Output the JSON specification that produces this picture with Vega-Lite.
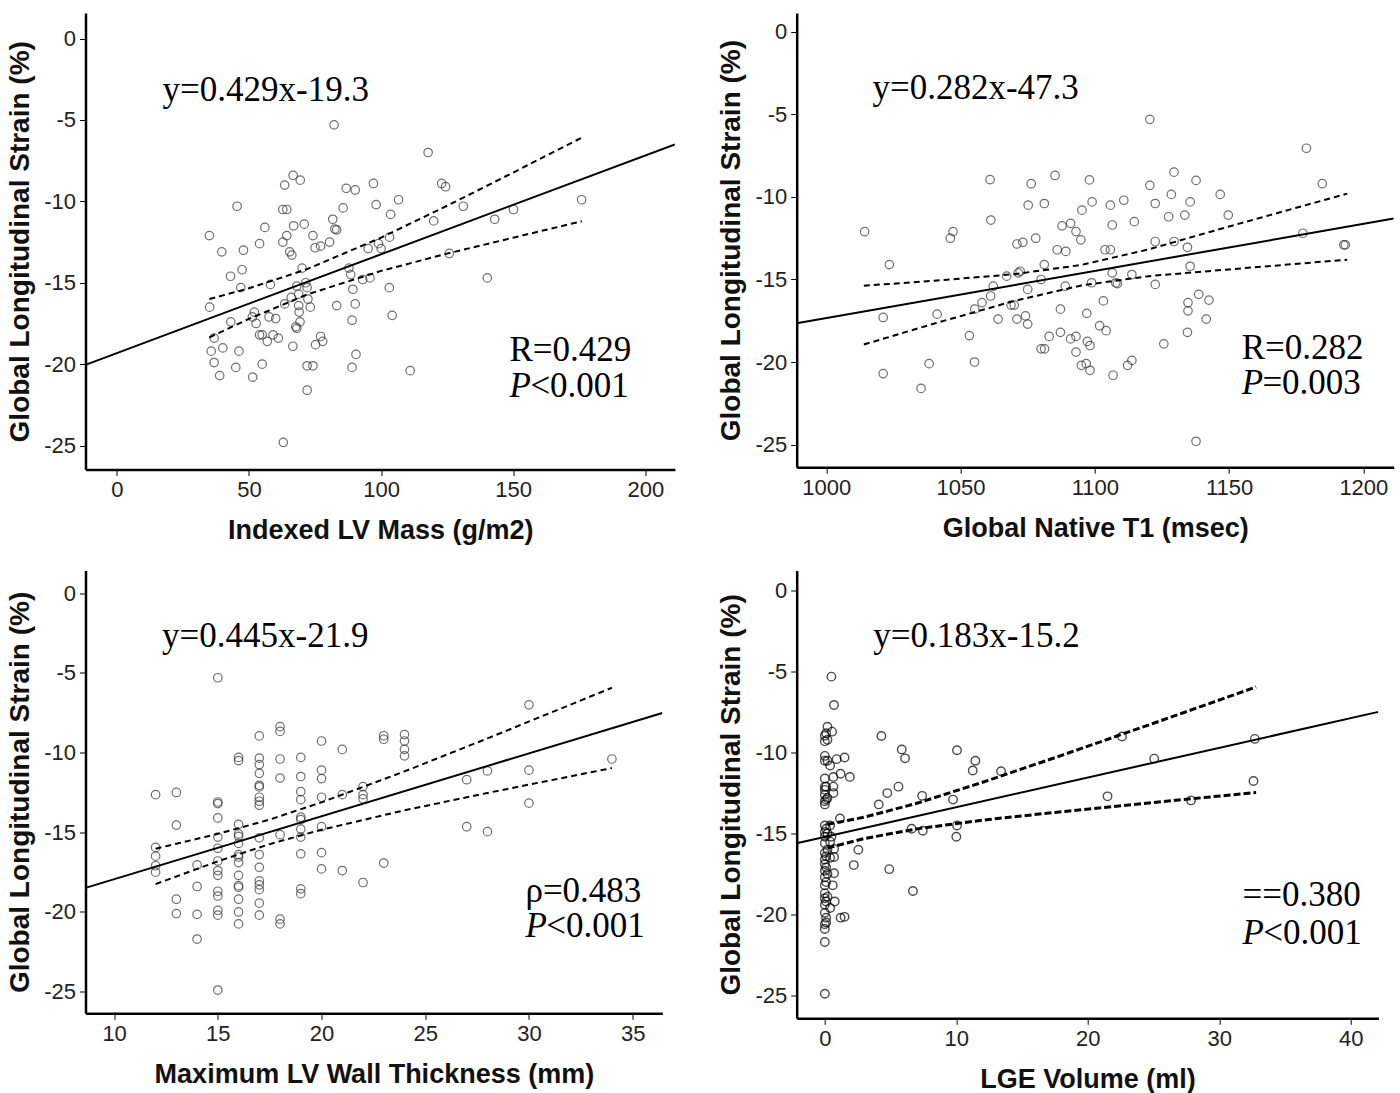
{
"$schema": "https://vega.github.io/schema/vega-lite/v6.json",
"background": "white",
"padding": {"left": 6.5, "top": 13, "right": 0, "bottom": 0},
"config": {
  "view": {"stroke": null},
  "axis": {"grid": false, "domainColor": "#000", "domainWidth": 2.5, "tickColor": "#000", "tickWidth": 1, "tickSize": 6, "labelFont": "Liberation Sans", "labelFontSize": 22, "labelColor": "#222", "labelPadding": 4, "titleFont": "Liberation Sans", "titleFontWeight": "bold", "titleColor": "#111"},
  "axisX": {"titlePadding": 17, "format": "d", "titleFontSize": 27},
  "axisY": {"titlePadding": 9, "titleFontSize": 28}
},
"datasets": {
  "p1": [{"x":82.2,"y":-5.3},{"x":117.8,"y":-7.0},{"x":66.7,"y":-8.4},{"x":69.4,"y":-8.7},{"x":63.5,"y":-9.0},{"x":86.8,"y":-9.2},{"x":90.2,"y":-9.3},{"x":97.1,"y":-8.9},{"x":122.9,"y":-8.9},{"x":124.4,"y":-9.1},{"x":106.6,"y":-9.9},{"x":175.9,"y":-9.9},{"x":98.1,"y":-10.2},{"x":45.5,"y":-10.3},{"x":62.8,"y":-10.5},{"x":64.3,"y":-10.5},{"x":85.6,"y":-10.4},{"x":103.6,"y":-10.8},{"x":131.1,"y":-10.3},{"x":150.1,"y":-10.5},{"x":81.7,"y":-11.1},{"x":119.9,"y":-11.2},{"x":143,"y":-11.1},{"x":56,"y":-11.6},{"x":66.9,"y":-11.5},{"x":70.9,"y":-11.4},{"x":82.5,"y":-11.7},{"x":83.2,"y":-11.75},{"x":35,"y":-12.1},{"x":64.3,"y":-12.1},{"x":74.2,"y":-12.1},{"x":103.2,"y":-12.2},{"x":62.8,"y":-12.5},{"x":80.5,"y":-12.5},{"x":54,"y":-12.6},{"x":77.1,"y":-12.75},{"x":75,"y":-12.85},{"x":95.1,"y":-12.9},{"x":99,"y":-12.6},{"x":100,"y":-12.9},{"x":39.7,"y":-13.1},{"x":47.9,"y":-13.0},{"x":65.4,"y":-13.1},{"x":66.2,"y":-13.3},{"x":125.8,"y":-13.2},{"x":47.4,"y":-14.2},{"x":70.1,"y":-14.1},{"x":87.8,"y":-14.1},{"x":43,"y":-14.6},{"x":88.5,"y":-14.5},{"x":93,"y":-14.8},{"x":95.8,"y":-14.7},{"x":140.2,"y":-14.7},{"x":58.1,"y":-15.1},{"x":46.9,"y":-15.3},{"x":71.5,"y":-15.0},{"x":68.1,"y":-15.2},{"x":72,"y":-15.3},{"x":89.3,"y":-15.4},{"x":103.1,"y":-15.3},{"x":68.8,"y":-15.7},{"x":66,"y":-15.9},{"x":72.3,"y":-16.0},{"x":35.1,"y":-16.5},{"x":63.5,"y":-16.3},{"x":68.8,"y":-16.4},{"x":73.2,"y":-16.5},{"x":83.2,"y":-16.4},{"x":90.2,"y":-16.3},{"x":69,"y":-16.8},{"x":52,"y":-16.8},{"x":51.3,"y":-17.1},{"x":57.6,"y":-17.1},{"x":60.1,"y":-17.2},{"x":104.2,"y":-17.0},{"x":43.1,"y":-17.4},{"x":52.7,"y":-17.5},{"x":69.3,"y":-17.4},{"x":89,"y":-17.3},{"x":67.7,"y":-17.7},{"x":68.1,"y":-17.8},{"x":54,"y":-18.2},{"x":55,"y":-18.2},{"x":59.1,"y":-18.2},{"x":61.1,"y":-18.4},{"x":36.8,"y":-18.4},{"x":56.9,"y":-18.6},{"x":77.1,"y":-18.3},{"x":77.9,"y":-18.6},{"x":75.2,"y":-18.8},{"x":66.6,"y":-18.9},{"x":40.1,"y":-19.0},{"x":35.7,"y":-19.2},{"x":46.2,"y":-19.2},{"x":90.5,"y":-19.4},{"x":36.8,"y":-19.9},{"x":55,"y":-20.0},{"x":45,"y":-20.2},{"x":72,"y":-20.1},{"x":74.2,"y":-20.1},{"x":89,"y":-20.2},{"x":111,"y":-20.4},{"x":38.9,"y":-20.7},{"x":51.4,"y":-20.8},{"x":72,"y":-21.6},{"x":63,"y":-24.8}],
  "p1fit": [{"x":-11.88,"y":-20.04},{"x":211.2,"y":-6.5}],
  "p1band": [{"x":35,"hi":-16.0,"lo":-18.35},{"x":50,"hi":-15.34,"lo":-17.22},{"x":72,"hi":-14.16,"lo":-15.72},{"x":100,"hi":-12.23,"lo":-14.27},{"x":125,"hi":-10.27,"lo":-13.21},{"x":150,"hi":-8.23,"lo":-12.23},{"x":176,"hi":-6.08,"lo":-11.22}],
  "p1note": [{"x":17.3,"y":-3.81,"t":"y=0.429x-19.3"},{"x":148.6,"y":-19.78,"t":"R=0.429"},{"x":156.5,"y":-21.99,"t":"<0.001"}],
  "p1it": [{"x":148.6,"y":-21.99,"t":"P"}],
  "p2": [{"x":1120.5,"y":-5.3},{"x":1178.8,"y":-7.05},{"x":1184.7,"y":-9.2},{"x":1085.2,"y":-8.7},{"x":1061,"y":-8.95},{"x":1098,"y":-8.97},{"x":1076.3,"y":-9.2},{"x":1129.5,"y":-8.5},{"x":1137.7,"y":-9.0},{"x":1120.5,"y":-9.3},{"x":1128.5,"y":-9.85},{"x":1146.7,"y":-9.85},{"x":1075.2,"y":-10.5},{"x":1081.2,"y":-10.4},{"x":1099,"y":-10.3},{"x":1095.2,"y":-10.8},{"x":1105.8,"y":-10.5},{"x":1110.8,"y":-10.2},{"x":1122.5,"y":-10.4},{"x":1135.5,"y":-10.3},{"x":1149.7,"y":-11.1},{"x":1061.3,"y":-11.4},{"x":1127.5,"y":-11.2},{"x":1133.5,"y":-11.1},{"x":1114.7,"y":-11.5},{"x":1106.5,"y":-11.7},{"x":1087.8,"y":-11.75},{"x":1091,"y":-11.6},{"x":1093,"y":-12.1},{"x":1014.3,"y":-12.1},{"x":1047.2,"y":-12.1},{"x":1046.2,"y":-12.5},{"x":1078,"y":-12.5},{"x":1094.8,"y":-12.6},{"x":1071,"y":-12.85},{"x":1073.2,"y":-12.75},{"x":1122.5,"y":-12.7},{"x":1129.5,"y":-12.7},{"x":1177.5,"y":-12.2},{"x":1192.7,"y":-12.9},{"x":1193.3,"y":-12.9},{"x":1086,"y":-13.2},{"x":1089.2,"y":-13.3},{"x":1103.8,"y":-13.2},{"x":1105.8,"y":-13.2},{"x":1134.5,"y":-13.05},{"x":1023.5,"y":-14.1},{"x":1081.2,"y":-14.1},{"x":1135.5,"y":-14.2},{"x":1072.2,"y":-14.5},{"x":1071.5,"y":-14.6},{"x":1067.2,"y":-14.8},{"x":1106.5,"y":-14.6},{"x":1113.8,"y":-14.7},{"x":1080,"y":-15.0},{"x":1075,"y":-15.6},{"x":1062.2,"y":-15.4},{"x":1089,"y":-15.4},{"x":1098.8,"y":-15.2},{"x":1107.8,"y":-15.2},{"x":1108.4,"y":-15.25},{"x":1122.5,"y":-15.3},{"x":1138.7,"y":-15.9},{"x":1142.5,"y":-16.25},{"x":1061.2,"y":-16.0},{"x":1058,"y":-16.4},{"x":1103.2,"y":-16.3},{"x":1134.7,"y":-16.4},{"x":1055.3,"y":-16.8},{"x":1068.8,"y":-16.55},{"x":1070,"y":-16.55},{"x":1087.2,"y":-16.8},{"x":1134.7,"y":-16.9},{"x":1021.2,"y":-17.3},{"x":1041.3,"y":-17.1},{"x":1064,"y":-17.4},{"x":1071,"y":-17.4},{"x":1074.2,"y":-17.2},{"x":1075,"y":-17.7},{"x":1097,"y":-17.05},{"x":1141.5,"y":-17.4},{"x":1101.8,"y":-17.8},{"x":1104.2,"y":-18.1},{"x":1134.5,"y":-18.2},{"x":1053.3,"y":-18.4},{"x":1083,"y":-18.45},{"x":1087.2,"y":-18.2},{"x":1091,"y":-18.6},{"x":1093,"y":-18.45},{"x":1097.2,"y":-18.75},{"x":1098.2,"y":-19.0},{"x":1080,"y":-19.2},{"x":1081.3,"y":-19.2},{"x":1093,"y":-19.4},{"x":1125.7,"y":-18.9},{"x":1038.3,"y":-20.1},{"x":1055.2,"y":-20.0},{"x":1095,"y":-20.2},{"x":1096.8,"y":-20.1},{"x":1098.2,"y":-20.5},{"x":1112.2,"y":-20.2},{"x":1113.8,"y":-19.9},{"x":1021.2,"y":-20.7},{"x":1106.8,"y":-20.8},{"x":1035.3,"y":-21.6},{"x":1137.7,"y":-24.8}],
  "p2fit": [{"x":989.0,"y":-17.65},{"x":1211.3,"y":-11.31}],
  "p2band": [{"x":1014,"hi":-15.38,"lo":-18.94},{"x":1040,"hi":-15.08,"lo":-17.68},{"x":1070,"hi":-14.68,"lo":-16.3},{"x":1095,"hi":-14.12,"lo":-15.36},{"x":1120,"hi":-13.18,"lo":-14.8},{"x":1150,"hi":-11.79,"lo":-14.39},{"x":1194,"hi":-9.8,"lo":-13.8}],
  "p2note": [{"x":1017.2,"y":-4.06,"t":"y=0.282x-47.3"},{"x":1154.7,"y":-19.8,"t":"R=0.282"},{"x":1162.4,"y":-21.96,"t":"=0.003"}],
  "p2it": [{"x":1154.7,"y":-21.96,"t":"P"}],
  "p3": [{"x":12,"y":-12.64},{"x":12,"y":-15.95},{"x":12,"y":-16.5},{"x":12,"y":-17.1},{"x":12,"y":-17.5},{"x":13,"y":-12.5},{"x":13,"y":-14.55},{"x":13,"y":-19.2},{"x":13,"y":-20.1},{"x":14,"y":-17.05},{"x":14,"y":-18.4},{"x":14,"y":-20.15},{"x":14,"y":-21.7},{"x":15,"y":-5.3},{"x":15,"y":-13.1},{"x":15,"y":-13.2},{"x":15,"y":-14.1},{"x":15,"y":-15.3},{"x":15,"y":-16.0},{"x":15,"y":-16.8},{"x":15,"y":-17.4},{"x":15,"y":-17.7},{"x":15,"y":-18.7},{"x":15,"y":-19.0},{"x":15,"y":-19.9},{"x":15,"y":-20.2},{"x":15,"y":-24.9},{"x":16,"y":-10.3},{"x":16,"y":-10.5},{"x":16,"y":-14.5},{"x":16,"y":-15.1},{"x":16,"y":-15.25},{"x":16,"y":-15.7},{"x":16,"y":-16.4},{"x":16,"y":-16.55},{"x":16,"y":-16.9},{"x":16,"y":-17.7},{"x":16,"y":-18.35},{"x":16,"y":-18.45},{"x":16,"y":-19.2},{"x":16,"y":-20.0},{"x":16,"y":-20.75},{"x":17,"y":-8.95},{"x":17,"y":-10.35},{"x":17,"y":-10.75},{"x":17,"y":-11.3},{"x":17,"y":-12.05},{"x":17,"y":-12.15},{"x":17,"y":-12.8},{"x":17,"y":-13.05},{"x":17,"y":-13.3},{"x":17,"y":-15.35},{"x":17,"y":-16.4},{"x":17,"y":-17.2},{"x":17,"y":-18.05},{"x":17,"y":-18.3},{"x":17,"y":-18.6},{"x":17,"y":-19.45},{"x":17,"y":-20.2},{"x":18,"y":-8.37},{"x":18,"y":-8.67},{"x":18,"y":-10.4},{"x":18,"y":-11.6},{"x":18,"y":-15.15},{"x":18,"y":-20.45},{"x":18,"y":-20.75},{"x":19,"y":-10.3},{"x":19,"y":-11.5},{"x":19,"y":-12.45},{"x":19,"y":-12.95},{"x":19,"y":-14.05},{"x":19,"y":-14.2},{"x":19,"y":-14.8},{"x":19,"y":-15.3},{"x":19,"y":-16.35},{"x":19,"y":-18.55},{"x":19,"y":-18.85},{"x":20,"y":-9.27},{"x":20,"y":-11.1},{"x":20,"y":-11.63},{"x":20,"y":-12.8},{"x":20,"y":-14.65},{"x":20,"y":-16.28},{"x":20,"y":-17.3},{"x":21,"y":-9.8},{"x":21,"y":-12.64},{"x":21,"y":-17.4},{"x":22,"y":-12.13},{"x":22,"y":-12.64},{"x":22,"y":-12.9},{"x":22,"y":-18.15},{"x":23,"y":-8.94},{"x":23,"y":-9.16},{"x":23,"y":-16.93},{"x":24,"y":-8.87},{"x":24,"y":-9.27},{"x":24,"y":-9.8},{"x":24,"y":-10.2},{"x":27,"y":-11.7},{"x":27,"y":-14.65},{"x":28,"y":-11.15},{"x":28,"y":-14.96},{"x":30,"y":-7.0},{"x":30,"y":-11.1},{"x":30,"y":-13.17},{"x":34,"y":-10.4}],
  "p3fit": [{"x":8.62,"y":-18.49},{"x":36.43,"y":-7.51}],
  "p3band": [{"x":12,"hi":-16.03,"lo":-18.25},{"x":15,"hi":-15.1,"lo":-16.82},{"x":17.5,"hi":-14.2,"lo":-15.74},{"x":20,"hi":-13.12,"lo":-14.84},{"x":24,"hi":-11.18,"lo":-13.62},{"x":28,"hi":-9.11,"lo":-12.53},{"x":34,"hi":-5.93,"lo":-10.97}],
  "p3note": [{"x":12.31,"y":-3.35,"t":"y=0.445x-21.9"},{"x":29.83,"y":-19.39,"t":"ρ=0.483"},{"x":30.83,"y":-21.58,"t":"<0.001"}],
  "p3it": [{"x":29.83,"y":-21.58,"t":"P"}],
  "p4": [{"x":0,"y":-8.95},{"x":0,"y":-9.3},{"x":0,"y":-10.2},{"x":0,"y":-10.5},{"x":0,"y":-11.6},{"x":0,"y":-12.1},{"x":0,"y":-12.3},{"x":0,"y":-12.6},{"x":0,"y":-13.0},{"x":0,"y":-13.2},{"x":0,"y":-14.5},{"x":0,"y":-14.9},{"x":0,"y":-15.2},{"x":0,"y":-15.6},{"x":0,"y":-16.2},{"x":0,"y":-16.6},{"x":0,"y":-16.9},{"x":0,"y":-17.3},{"x":0,"y":-17.7},{"x":0,"y":-18.2},{"x":0,"y":-18.7},{"x":0,"y":-19.0},{"x":0,"y":-19.4},{"x":0,"y":-19.9},{"x":0,"y":-20.6},{"x":0,"y":-20.9},{"x":0,"y":-21.7},{"x":0,"y":-24.9},{"x":0.1,"y":-8.8},{"x":0.1,"y":-12.1},{"x":0.1,"y":-12.9},{"x":0.1,"y":-14.7},{"x":0.1,"y":-16.4},{"x":0.1,"y":-17.1},{"x":0.1,"y":-18.0},{"x":0.1,"y":-19.2},{"x":0.1,"y":-20.2},{"x":0.1,"y":-20.5},{"x":0.2,"y":-8.4},{"x":0.2,"y":-9.2},{"x":0.2,"y":-10.5},{"x":0.2,"y":-12.8},{"x":0.2,"y":-15.0},{"x":0.2,"y":-16.0},{"x":0.2,"y":-17.5},{"x":0.2,"y":-18.9},{"x":0.4,"y":-10.8},{"x":0.4,"y":-14.5},{"x":0.4,"y":-15.5},{"x":0.4,"y":-16.5},{"x":0.4,"y":-19.6},{"x":0.5,"y":-5.3},{"x":0.55,"y":-8.7},{"x":0.5,"y":-15.2},{"x":0.65,"y":-11.5},{"x":0.65,"y":-12.1},{"x":0.65,"y":-12.5},{"x":0.6,"y":-18.2},{"x":0.7,"y":-7.05},{"x":0.7,"y":-15.95},{"x":0.7,"y":-16.45},{"x":0.7,"y":-17.45},{"x":0.75,"y":-19.2},{"x":0.9,"y":-10.4},{"x":1.15,"y":-14.07},{"x":1.2,"y":-11.3},{"x":1.5,"y":-10.3},{"x":1.9,"y":-11.5},{"x":1.2,"y":-20.2},{"x":1.5,"y":-20.15},{"x":2.2,"y":-16.95},{"x":2.55,"y":-16.0},{"x":4.1,"y":-13.2},{"x":4.3,"y":-8.97},{"x":4.75,"y":-12.5},{"x":4.9,"y":-17.2},{"x":5.6,"y":-12.1},{"x":5.85,"y":-9.8},{"x":6.1,"y":-10.35},{"x":6.6,"y":-14.7},{"x":6.7,"y":-18.55},{"x":7.4,"y":-12.67},{"x":7.45,"y":-14.83},{"x":9.75,"y":-12.9},{"x":10.0,"y":-15.2},{"x":10.05,"y":-14.5},{"x":10.05,"y":-9.85},{"x":11.25,"y":-11.1},{"x":11.45,"y":-10.5},{"x":13.4,"y":-11.15},{"x":21.5,"y":-12.7},{"x":22.6,"y":-9.0},{"x":25.05,"y":-10.37},{"x":27.85,"y":-12.95},{"x":32.6,"y":-11.75},{"x":32.7,"y":-9.15}],
  "p4fit": [{"x":-2.14,"y":-15.6},{"x":42.1,"y":-7.48}],
  "p4band": [{"x":0.2,"hi":-14.43,"lo":-15.89},{"x":3,"hi":-13.99,"lo":-15.31},{"x":7,"hi":-13.13,"lo":-14.71},{"x":12,"hi":-11.83,"lo":-14.17},{"x":18,"hi":-10.17,"lo":-13.65},{"x":25,"hi":-8.18,"lo":-13.08},{"x":32.8,"hi":-5.94,"lo":-12.46}],
  "p4note": [{"x":3.69,"y":-3.45,"t":"y=0.183x-15.2"},{"x":31.77,"y":-19.5,"t":"==0.380"},{"x":33.35,"y":-21.83,"t":"<0.001"}],
  "p4it": [{"x":31.77,"y":-21.83,"t":"P"}]
},
"bounds": "flush",
"columns": 2,
"spacing": {"row": 100.5, "column": 121.2},
"concat": [
  {"width": 589.4, "height": 456.5,
   "encoding": {"x": {"field": "x", "type": "quantitative", "title": "Indexed LV Mass (g/m2)", "scale": {"domain": [-11.88, 211.2], "nice": false, "zero": false}, "axis": {"values": [0, 50, 100, 150, 200]}}},
   "layer": [
    {"data": {"name": "p1"}, "mark": {"type": "point", "shape": "circle", "filled": false, "size": 72, "strokeWidth": 1.2, "color": "#333"},
     "encoding": {"y": {"field": "y", "type": "quantitative", "title": "Global Longitudinal Strain (%)", "scale": {"domain": [-26.47, 1.57], "nice": false, "zero": false}, "axis": {"values": [0, -5, -10, -15, -20, -25], "labelExpr": "datum.value < 0 ? '-' + abs(datum.value) : '' + datum.value"}}}},
    {"data": {"name": "p1fit"}, "mark": {"type": "line", "color": "#000", "strokeWidth": 2, "clip": true}, "encoding": {"y": {"field": "y", "type": "quantitative", "title": "Global Longitudinal Strain (%)"}}},
    {"data": {"name": "p1band"}, "mark": {"type": "line", "color": "#000", "strokeWidth": 2, "strokeDash": [6, 4]}, "encoding": {"y": {"field": "hi", "type": "quantitative", "title": "Global Longitudinal Strain (%)"}}},
    {"data": {"name": "p1band"}, "mark": {"type": "line", "color": "#000", "strokeWidth": 2, "strokeDash": [6, 4]}, "encoding": {"y": {"field": "lo", "type": "quantitative", "title": "Global Longitudinal Strain (%)"}}},
    {"data": {"name": "p1note"}, "mark": {"type": "text", "font": "Liberation Serif", "fontSize": 35, "align": "left", "baseline": "alphabetic", "color": "#000"}, "encoding": {"y": {"field": "y", "type": "quantitative", "title": "Global Longitudinal Strain (%)"}, "text": {"field": "t"}}},
    {"data": {"name": "p1it"}, "mark": {"type": "text", "font": "Liberation Serif", "fontStyle": "italic", "fontSize": 35, "align": "left", "baseline": "alphabetic", "color": "#000"}, "encoding": {"y": {"field": "y", "type": "quantitative", "title": "Global Longitudinal Strain (%)"}, "text": {"field": "t"}}}
   ]},
  {"width": 597, "height": 454.2,
   "encoding": {"x": {"field": "x", "type": "quantitative", "title": "Global Native T1 (msec)", "scale": {"domain": [989.0, 1211.3], "nice": false, "zero": false}, "axis": {"values": [1000, 1050, 1100, 1150, 1200]}}},
   "layer": [
    {"data": {"name": "p2"}, "mark": {"type": "point", "shape": "circle", "filled": false, "size": 72, "strokeWidth": 1.2, "color": "#333"},
     "encoding": {"y": {"field": "y", "type": "quantitative", "title": "Global Longitudinal Strain (%)", "scale": {"domain": [-26.37, 1.14], "nice": false, "zero": false}, "axis": {"values": [0, -5, -10, -15, -20, -25], "labelExpr": "datum.value < 0 ? '-' + abs(datum.value) : '' + datum.value"}}}},
    {"data": {"name": "p2fit"}, "mark": {"type": "line", "color": "#000", "strokeWidth": 2, "clip": true}, "encoding": {"y": {"field": "y", "type": "quantitative", "title": "Global Longitudinal Strain (%)"}}},
    {"data": {"name": "p2band"}, "mark": {"type": "line", "color": "#000", "strokeWidth": 2, "strokeDash": [6, 4]}, "encoding": {"y": {"field": "hi", "type": "quantitative", "title": "Global Longitudinal Strain (%)"}}},
    {"data": {"name": "p2band"}, "mark": {"type": "line", "color": "#000", "strokeWidth": 2, "strokeDash": [6, 4]}, "encoding": {"y": {"field": "lo", "type": "quantitative", "title": "Global Longitudinal Strain (%)"}}},
    {"data": {"name": "p2note"}, "mark": {"type": "text", "font": "Liberation Serif", "fontSize": 35, "align": "left", "baseline": "alphabetic", "color": "#000"}, "encoding": {"y": {"field": "y", "type": "quantitative", "title": "Global Longitudinal Strain (%)"}, "text": {"field": "t"}}},
    {"data": {"name": "p2it"}, "mark": {"type": "text", "font": "Liberation Serif", "fontStyle": "italic", "fontSize": 35, "align": "left", "baseline": "alphabetic", "color": "#000"}, "encoding": {"y": {"field": "y", "type": "quantitative", "title": "Global Longitudinal Strain (%)"}, "text": {"field": "t"}}}
   ]},
  {"width": 576.8, "height": 442.8,
   "encoding": {"x": {"field": "x", "type": "quantitative", "title": "Maximum LV Wall Thickness (mm)", "scale": {"domain": [8.62, 36.43], "nice": false, "zero": false}, "axis": {"values": [10, 15, 20, 25, 30, 35]}}},
   "layer": [
    {"data": {"name": "p3"}, "mark": {"type": "point", "shape": "circle", "filled": false, "size": 72, "strokeWidth": 1.2, "color": "#333"},
     "encoding": {"y": {"field": "y", "type": "quantitative", "title": "Global Longitudinal Strain (%)", "scale": {"domain": [-26.36, 1.43], "nice": false, "zero": false}, "axis": {"values": [0, -5, -10, -15, -20, -25], "labelExpr": "datum.value < 0 ? '-' + abs(datum.value) : '' + datum.value"}}}},
    {"data": {"name": "p3fit"}, "mark": {"type": "line", "color": "#000", "strokeWidth": 2, "clip": true}, "encoding": {"y": {"field": "y", "type": "quantitative", "title": "Global Longitudinal Strain (%)"}}},
    {"data": {"name": "p3band"}, "mark": {"type": "line", "color": "#000", "strokeWidth": 2, "strokeDash": [6, 4]}, "encoding": {"y": {"field": "hi", "type": "quantitative", "title": "Global Longitudinal Strain (%)"}}},
    {"data": {"name": "p3band"}, "mark": {"type": "line", "color": "#000", "strokeWidth": 2, "strokeDash": [6, 4]}, "encoding": {"y": {"field": "lo", "type": "quantitative", "title": "Global Longitudinal Strain (%)"}}},
    {"data": {"name": "p3note"}, "mark": {"type": "text", "font": "Liberation Serif", "fontSize": 35, "align": "left", "baseline": "alphabetic", "color": "#000"}, "encoding": {"y": {"field": "y", "type": "quantitative", "title": "Global Longitudinal Strain (%)"}, "text": {"field": "t"}}},
    {"data": {"name": "p3it"}, "mark": {"type": "text", "font": "Liberation Serif", "fontStyle": "italic", "fontSize": 35, "align": "left", "baseline": "alphabetic", "color": "#000"}, "encoding": {"y": {"field": "y", "type": "quantitative", "title": "Global Longitudinal Strain (%)"}, "text": {"field": "t"}}}
   ]},
  {"width": 581.7, "height": 447.8,
   "encoding": {"x": {"field": "x", "type": "quantitative", "title": "LGE Volume (ml)", "scale": {"domain": [-2.14, 42.1], "nice": false, "zero": false}, "axis": {"values": [0, 10, 20, 30, 40]}}},
   "layer": [
    {"data": {"name": "p4"}, "mark": {"type": "point", "shape": "circle", "filled": false, "size": 72, "strokeWidth": 1.4, "color": "#000"},
     "encoding": {"y": {"field": "y", "type": "quantitative", "title": "Global Longitudinal Strain (%)", "scale": {"domain": [-26.42, 1.26], "nice": false, "zero": false}, "axis": {"values": [0, -5, -10, -15, -20, -25], "labelExpr": "datum.value < 0 ? '-' + abs(datum.value) : '' + datum.value"}}}},
    {"data": {"name": "p4fit"}, "mark": {"type": "line", "color": "#000", "strokeWidth": 2, "clip": true}, "encoding": {"y": {"field": "y", "type": "quantitative", "title": "Global Longitudinal Strain (%)"}}},
    {"data": {"name": "p4band"}, "mark": {"type": "line", "color": "#000", "strokeWidth": 3, "strokeDash": [7, 3]}, "encoding": {"y": {"field": "hi", "type": "quantitative", "title": "Global Longitudinal Strain (%)"}}},
    {"data": {"name": "p4band"}, "mark": {"type": "line", "color": "#000", "strokeWidth": 3, "strokeDash": [7, 3]}, "encoding": {"y": {"field": "lo", "type": "quantitative", "title": "Global Longitudinal Strain (%)"}}},
    {"data": {"name": "p4note"}, "mark": {"type": "text", "font": "Liberation Serif", "fontSize": 35, "align": "left", "baseline": "alphabetic", "color": "#000"}, "encoding": {"y": {"field": "y", "type": "quantitative", "title": "Global Longitudinal Strain (%)"}, "text": {"field": "t"}}},
    {"data": {"name": "p4it"}, "mark": {"type": "text", "font": "Liberation Serif", "fontStyle": "italic", "fontSize": 35, "align": "left", "baseline": "alphabetic", "color": "#000"}, "encoding": {"y": {"field": "y", "type": "quantitative", "title": "Global Longitudinal Strain (%)"}, "text": {"field": "t"}}}
   ]}
]
}
